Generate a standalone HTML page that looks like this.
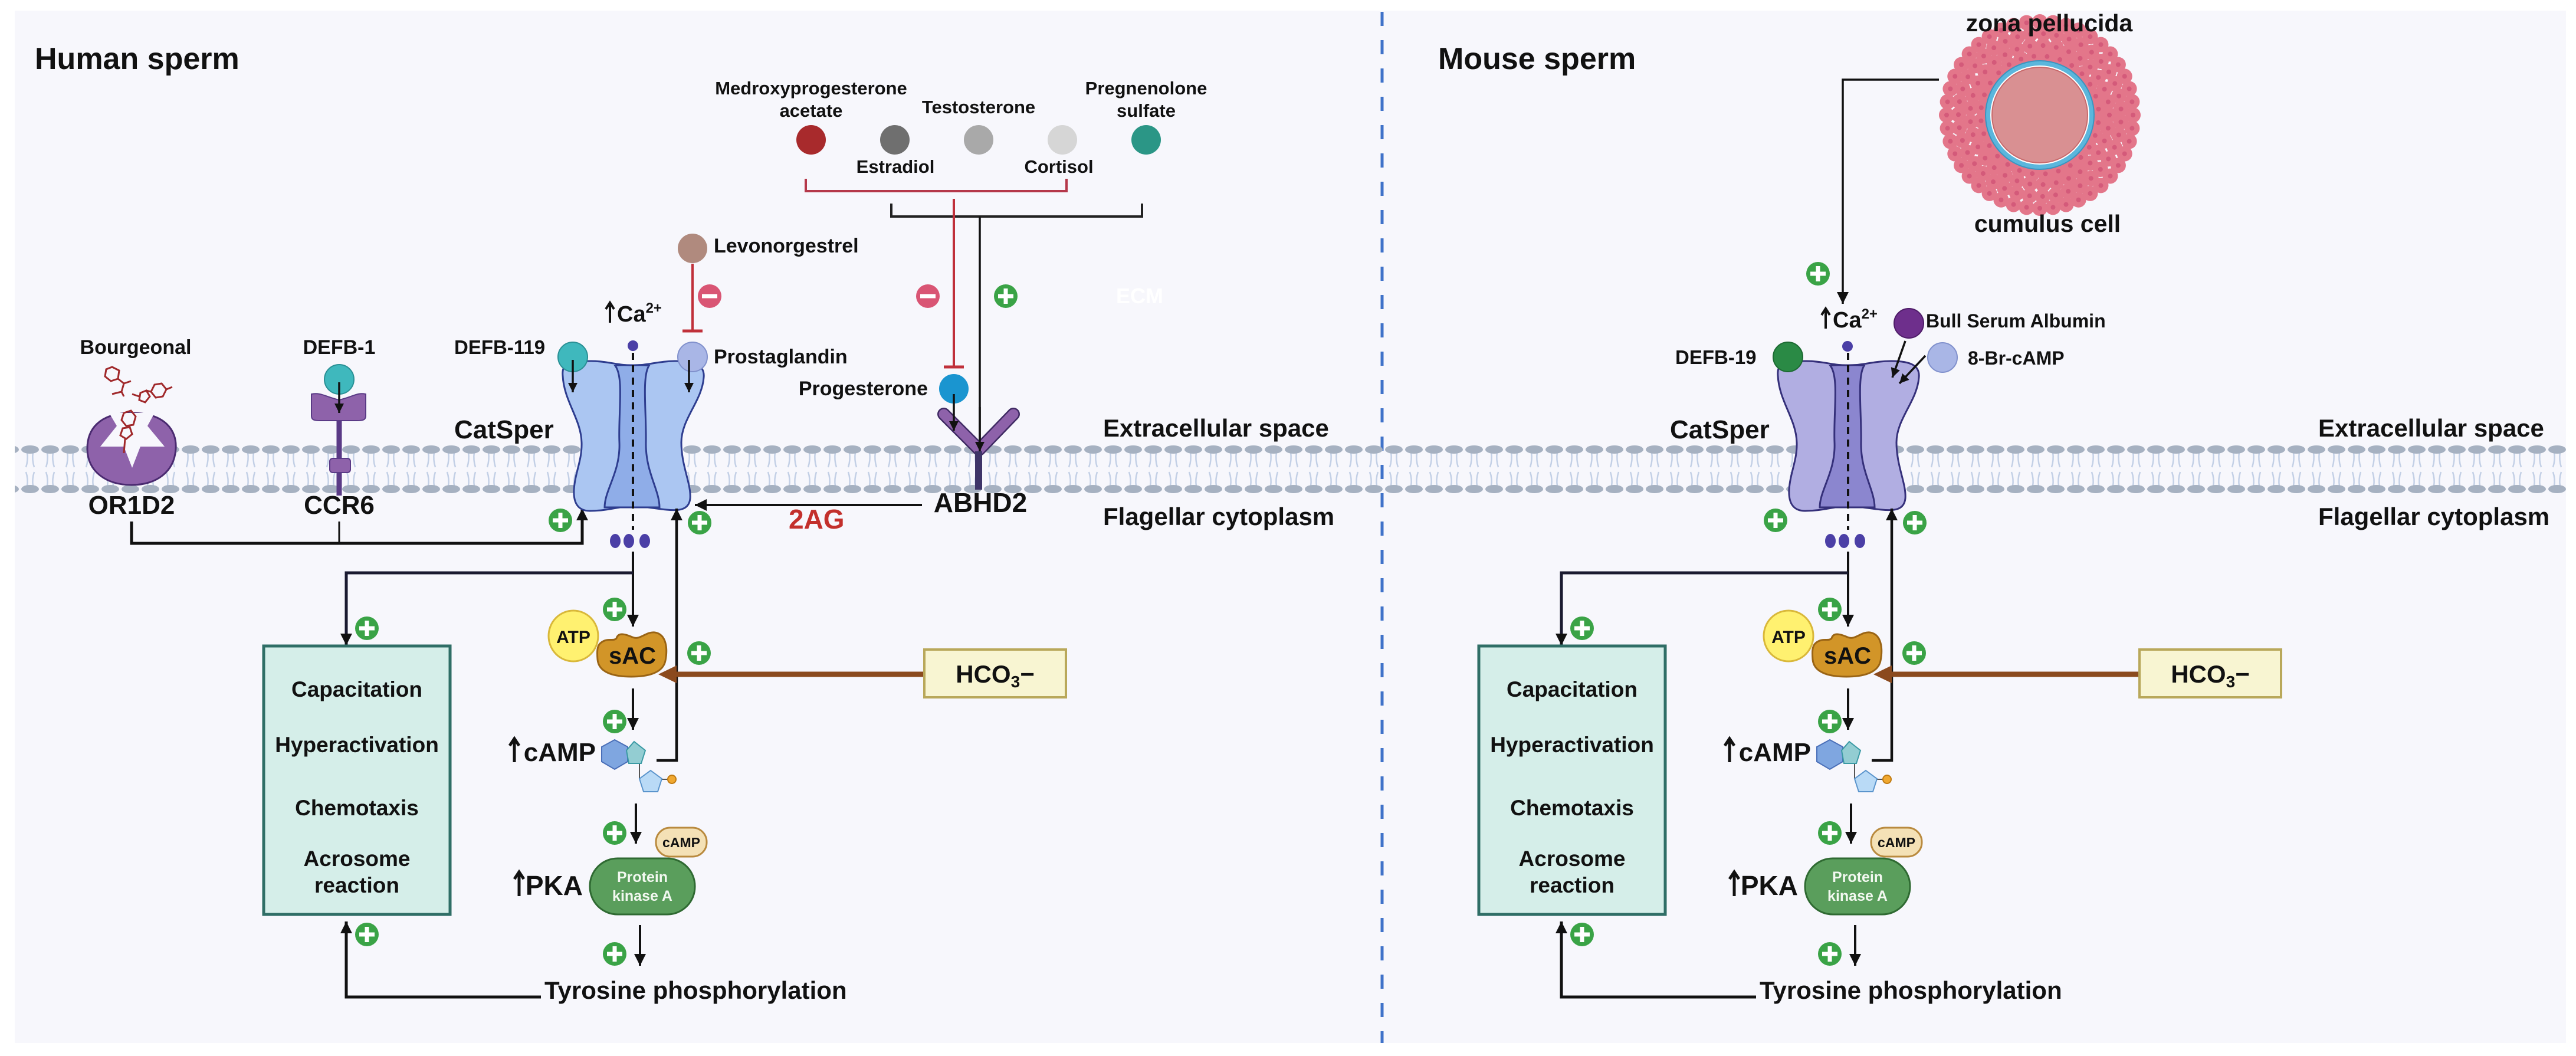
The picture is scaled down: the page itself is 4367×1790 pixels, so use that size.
<!DOCTYPE html>
<html><head><meta charset="utf-8"><style>
html,body{margin:0;padding:0;background:#fff;}
svg{display:block;}
text{font-family:"Liberation Sans",Arial,sans-serif;font-weight:bold;fill:#111;}
</style></head><body>
<svg width="4367" height="1790" viewBox="0 0 4367 1790" xmlns="http://www.w3.org/2000/svg">
<defs>
<marker id="a" viewBox="0 0 10 10" refX="10" refY="5" markerWidth="20" markerHeight="20" orient="auto" markerUnits="userSpaceOnUse"><path d="M0,0 L10,5 L0,10 z" fill="#111"/></marker>
<marker id="as" viewBox="0 0 10 10" refX="10" refY="5" markerWidth="16" markerHeight="16" orient="auto" markerUnits="userSpaceOnUse"><path d="M0,0 L10,5 L0,10 z" fill="#111"/></marker>
<pattern id="mem" patternUnits="userSpaceOnUse" x="0" y="752" width="34" height="88">
<path d="M12,14 Q14,28 10,40 M22,14 Q20,28 24,40 M10,48 Q14,60 12,72 M24,48 Q20,60 22,72" stroke="#c3d0e6" stroke-width="2.5" fill="none"/>
<ellipse cx="17" cy="10" rx="15" ry="7" fill="#a6b1c1"/>
<ellipse cx="17" cy="77" rx="15" ry="7" fill="#a6b1c1"/>
</pattern>
<g id="p"><circle r="20" fill="#3aa346"/><rect x="-13" y="-3.5" width="26" height="7" fill="#fff"/><rect x="-3.5" y="-13" width="7" height="26" fill="#fff"/></g>
<g id="m"><circle r="20" fill="#d95574"/><rect x="-13" y="-3.5" width="26" height="7" fill="#fff"/></g>
<g id="chan">
<path d="M954,637 C952,615 965,612 1002,612 C1030,612 1050,620 1073,619 C1096,620 1116,612 1146,612 C1180,612 1195,620 1193,640 C1190,680 1155,710 1155,750 C1155,790 1172,820 1170,845 C1168,865 1150,866 1130,864 C1110,862 1090,858 1073,858 C1050,858 1030,866 1000,866 C978,866 972,850 973,830 C975,800 987,780 986,750 C985,710 956,680 954,637 Z"/>
</g>
<g id="path">
<line x1="1073" y1="935" x2="1073" y2="1062" stroke="#111" stroke-width="4" marker-end="url(#a)"/>
<path d="M1073,971 L587,971 L587,1094" stroke="#1a1a30" stroke-width="5" fill="none" marker-end="url(#a)"/>
<use href="#p" x="622" y="1065"/>
<use href="#p" x="1042" y="1033"/>
<use href="#p" x="1185" y="1107"/>
<use href="#p" x="1042" y="1223"/>
<use href="#p" x="1042" y="1412"/>
<use href="#p" x="1042" y="1617"/>
<use href="#p" x="622" y="1584"/>
<path d="M1113,1289 L1147,1289 L1147,862" stroke="#111" stroke-width="4.5" fill="none" marker-end="url(#a)"/>
<line x1="1567" y1="1143" x2="1147" y2="1143" stroke="#8b4a1e" stroke-width="9"/>
<path d="M1116,1143 L1147,1128 L1147,1158 Z" fill="#8b4a1e"/>
<rect x="1567" y="1101" width="240" height="81" fill="#f8f5d2" stroke="#b9a85a" stroke-width="4"/>
<text x="1687" y="1157" font-size="42" text-anchor="middle">HCO<tspan font-size="28" dy="8">3</tspan><tspan dy="-8">−</tspan></text>
<rect x="447" y="1095" width="316" height="455" fill="#d5eee9" stroke="#2f6e66" stroke-width="5"/>
<text x="605" y="1181" font-size="37" text-anchor="middle">Capacitation</text>
<text x="605" y="1275" font-size="37" text-anchor="middle">Hyperactivation</text>
<text x="605" y="1382" font-size="37" text-anchor="middle">Chemotaxis</text>
<text x="605" y="1468" font-size="37" text-anchor="middle">Acrosome</text>
<text x="605" y="1513" font-size="37" text-anchor="middle">reaction</text>
<ellipse cx="972" cy="1078" rx="42" ry="43" fill="#fff170" stroke="#d9b83a" stroke-width="3"/>
<text x="972" y="1090" font-size="30" text-anchor="middle">ATP</text>
<path d="M1018,1090 C1030,1080 1040,1088 1045,1082 C1048,1072 1058,1074 1072,1080 C1085,1086 1095,1070 1110,1072 C1130,1075 1132,1100 1128,1120 C1124,1140 1100,1147 1070,1147 C1040,1147 1015,1140 1013,1118 C1012,1105 1012,1095 1018,1090 Z" fill="#d29528" stroke="#9a6414" stroke-width="3"/>
<text x="1072" y="1125" font-size="40" text-anchor="middle">sAC</text>
<line x1="1073" y1="1167" x2="1073" y2="1237" stroke="#111" stroke-width="4" marker-end="url(#a)"/>
<text x="1010" y="1290" font-size="44" text-anchor="end">cAMP</text>
<path d="M872,1292 L872,1254 M864,1264 L872,1252 L880,1264" stroke="#111" stroke-width="5" fill="none"/>
<line x1="1084" y1="1290" x2="1084" y2="1320" stroke="#555" stroke-width="2"/>
<line x1="1118" y1="1321" x2="1139" y2="1321" stroke="#555" stroke-width="2"/>
<polygon points="1042,1254 1064,1266 1064,1291 1042,1304 1020,1291 1020,1266" fill="#7fa6e0" stroke="#4a6fb8" stroke-width="2"/>
<polygon points="1075,1257 1094,1272 1087,1294 1066,1294 1062,1272" fill="#93cdd2" stroke="#3a9aa4" stroke-width="2"/>
<polygon points="1103,1306 1122,1320 1115,1342 1091,1342 1084,1320" fill="#b9daf6" stroke="#5a94cc" stroke-width="2"/>
<circle cx="1139" cy="1321" r="7" fill="#f0a830" stroke="#c07a10" stroke-width="2"/>
<line x1="1078" y1="1362" x2="1078" y2="1430" stroke="#111" stroke-width="4" marker-end="url(#a)"/>
<rect x="1112" y="1403" width="86" height="49" rx="24" fill="#f4e1b6" stroke="#b98a3e" stroke-width="3"/>
<text x="1155" y="1436" font-size="23" text-anchor="middle">cAMP</text>
<rect x="1000" y="1455" width="178" height="95" rx="47" fill="#5a9e5c" stroke="#2f6a32" stroke-width="3"/>
<text x="1089" y="1495" font-size="25" text-anchor="middle" style="fill:#f2f8f0">Protein</text>
<text x="1089" y="1527" font-size="25" text-anchor="middle" style="fill:#f2f8f0">kinase A</text>
<text x="988" y="1517" font-size="46" text-anchor="end">PKA</text>
<path d="M880,1519 L880,1480 M872,1490 L880,1478 L888,1490" stroke="#111" stroke-width="5" fill="none"/>
<line x1="1085" y1="1568" x2="1085" y2="1637" stroke="#111" stroke-width="4" marker-end="url(#a)"/>
<path d="M917,1690 L587,1690 L587,1562" stroke="#111" stroke-width="5" fill="none" marker-end="url(#a)"/>
<text x="923" y="1693" font-size="42">Tyrosine phosphorylation</text>
<line x1="1073" y1="598" x2="1073" y2="898" stroke="#111" stroke-width="4" stroke-dasharray="12 9"/>
<ellipse cx="1043" cy="917" rx="9" ry="12" fill="#4b3fa6"/>
<ellipse cx="1066" cy="917" rx="9" ry="12" fill="#4b3fa6"/>
<ellipse cx="1093" cy="917" rx="9" ry="12" fill="#4b3fa6"/>
<use href="#p" x="950" y="882"/>
<use href="#p" x="1186" y="886"/>
</g>
</defs>

<rect x="25" y="18" width="4325" height="1750" fill="#f7f7fc"/>
<line x1="2343" y1="20" x2="2343" y2="1768" stroke="#3f72c9" stroke-width="5" stroke-dasharray="24 24"/>
<rect x="25" y="752" width="4325" height="88" fill="url(#mem)"/>

<text x="59" y="117" font-size="52">Human sperm</text>
<text x="2438" y="117" font-size="52">Mouse sperm</text>

<text x="1870" y="740" font-size="42">Extracellular space</text>
<text x="1870" y="890" font-size="42">Flagellar cytoplasm</text>
<text x="3930" y="740" font-size="42">Extracellular space</text>
<text x="3930" y="890" font-size="42">Flagellar cytoplasm</text>

<!-- hormones -->
<text x="1375" y="160" font-size="31" text-anchor="middle">Medroxyprogesterone</text>
<text x="1375" y="198" font-size="31" text-anchor="middle">acetate</text>
<text x="1659" y="192" font-size="31" text-anchor="middle">Testosterone</text>
<text x="1943" y="160" font-size="31" text-anchor="middle">Pregnenolone</text>
<text x="1943" y="198" font-size="31" text-anchor="middle">sulfate</text>
<text x="1518" y="293" font-size="31" text-anchor="middle">Estradiol</text>
<text x="1795" y="293" font-size="31" text-anchor="middle">Cortisol</text>
<circle cx="1375" cy="237" r="25" fill="#a82a2c"/>
<circle cx="1517" cy="237" r="25" fill="#6f6f6f"/>
<circle cx="1659" cy="237" r="25" fill="#a9a9a9"/>
<circle cx="1801" cy="237" r="25" fill="#d6d6d6"/>
<circle cx="1943" cy="237" r="25" fill="#2b9686"/>
<path d="M1366,303 L1366,324 L1808,324 L1808,303" stroke="#b5384a" stroke-width="4" fill="none"/>
<path d="M1511,345 L1511,367 L1936,367 L1936,345" stroke="#222" stroke-width="4" fill="none"/>
<line x1="1617" y1="337" x2="1617" y2="622" stroke="#c0303a" stroke-width="4"/>
<line x1="1600" y1="622" x2="1634" y2="622" stroke="#c0303a" stroke-width="5"/>
<line x1="1661" y1="367" x2="1661" y2="765" stroke="#111" stroke-width="3.5" marker-end="url(#as)"/>
<use href="#m" x="1573" y="502"/>
<use href="#p" x="1705" y="502"/>
<text x="1892" y="514" font-size="36" style="fill:#ffffff">ECM</text>

<circle cx="1174" cy="421" r="25" fill="#b08a7e"/>
<text x="1210" y="428" font-size="34">Levonorgestrel</text>
<line x1="1174" y1="447" x2="1174" y2="561" stroke="#c0303a" stroke-width="4"/>
<line x1="1157" y1="561" x2="1191" y2="561" stroke="#c0303a" stroke-width="5"/>
<use href="#m" x="1203" y="502"/>

<text x="1573" y="670" font-size="34" text-anchor="end">Progesterone</text>
<path d="M1600,702 L1660,762 L1718,702" stroke="#3f2a63" stroke-width="22" fill="none" stroke-linecap="round" stroke-linejoin="round"/>
<path d="M1600,702 L1660,762 L1718,702" stroke="#8e62aa" stroke-width="17" fill="none" stroke-linecap="round" stroke-linejoin="round"/>
<line x1="1659" y1="765" x2="1659" y2="830" stroke="#3e3468" stroke-width="12"/>
<circle cx="1617" cy="659" r="25" fill="#1a95d0"/>
<line x1="1617" y1="668" x2="1617" y2="730" stroke="#111" stroke-width="3.5" marker-end="url(#as)"/>
<line x1="1661" y1="690" x2="1661" y2="765" stroke="#111" stroke-width="3.5" marker-end="url(#as)"/>
<text x="1662" y="868" font-size="46" text-anchor="middle">ABHD2</text>
<line x1="1563" y1="856" x2="1178" y2="856" stroke="#111" stroke-width="4" marker-end="url(#a)"/>
<text x="1337" y="896" font-size="46" style="fill:#c3302c">2AG</text>

<!-- OR1D2 -->
<text x="230" y="600" font-size="34" text-anchor="middle">Bourgeonal</text>
<path d="M223,700 C280,700 300,730 298,760 C296,800 265,822 223,822 C181,822 148,800 148,760 C148,730 166,700 223,700 Z" fill="#8e62aa" stroke="#4a2a70" stroke-width="3"/>
<polygon points="185,700 198,722 170,757 210,757 224,793 238,757 279,757 250,722 262,700" fill="#f7f7fc"/>
<g stroke="#a0282a" stroke-width="3" fill="none">
<polygon points="190,622 202,628 200,642 188,646 178,638 180,626"/>
<path d="M200,642 L210,650 L222,646 M210,650 L206,664 L190,668 M206,664 L210,672"/>
<polygon points="238,666 248,662 254,672 246,682 236,678"/>
<polygon points="262,652 274,650 282,660 276,672 264,674 256,664"/>
<path d="M248,662 L256,664 M282,660 L292,656 M224,668 L236,672"/>
<polygon points="210,700 222,696 230,706 226,720 214,722 206,712"/>
<polygon points="208,726 220,724 224,736 214,744 204,738"/>
<path d="M212,744 L210,768"/>
</g>
<text x="223" y="871" font-size="44" text-anchor="middle">OR1D2</text>

<text x="575" y="600" font-size="34" text-anchor="middle">DEFB-1</text>
<line x1="575" y1="700" x2="575" y2="840" stroke="#5a3a86" stroke-width="9"/>
<rect x="559" y="777" width="35" height="24" rx="5" fill="#8e62aa" stroke="#5a3a86" stroke-width="2"/>
<path d="M528,668 C545,665 550,672 575,678 C600,672 605,665 620,668 L620,705 C620,712 615,713 605,713 L543,713 C533,713 528,712 528,705 Z" fill="#8e62aa" stroke="#5a3a86" stroke-width="2"/>
<circle cx="575" cy="643" r="25" fill="#3fb8bd" stroke="#2a9095" stroke-width="2"/>
<line x1="575" y1="648" x2="575" y2="700" stroke="#111" stroke-width="3.5" marker-end="url(#as)"/>
<text x="575" y="871" font-size="44" text-anchor="middle">CCR6</text>
<path d="M223,884 L223,921 L987,921 L987,862" stroke="#111" stroke-width="5" fill="none" marker-end="url(#a)"/>
<line x1="575" y1="884" x2="575" y2="921" stroke="#111" stroke-width="3"/>

<g fill="#abc6f2" stroke="#2e3d8f" stroke-width="3"><use href="#chan"/></g>
<path d="M1043,620 C1058,640 1048,700 1050,750 C1052,800 1025,830 1025,860 L1118,860 C1118,830 1094,800 1095,750 C1096,700 1088,640 1100,620 C1090,618 1080,619 1073,619 C1060,619 1050,618 1043,620 Z" fill="#8fade8" stroke="#2e3d8f" stroke-width="3"/>
<text x="770" y="743" font-size="44">CatSper</text>
<path d="M1034,547 L1034,515 M1027,524 L1034,513 L1041,524" stroke="#111" stroke-width="4" fill="none"/>
<text x="1046" y="545" font-size="38">Ca<tspan font-size="24" dy="-15">2+</tspan></text>
<circle cx="1073" cy="586" r="9" fill="#4b3fa6"/>
<text x="770" y="600" font-size="33">DEFB-119</text>
<circle cx="971" cy="605" r="25" fill="#3fb8bd" stroke="#2a9095" stroke-width="2"/>
<line x1="971" y1="610" x2="971" y2="665" stroke="#111" stroke-width="3.5" marker-end="url(#as)"/>
<circle cx="1174" cy="605" r="25" fill="#a9b6e6" stroke="#8090cc" stroke-width="2"/>
<line x1="1168" y1="610" x2="1168" y2="665" stroke="#111" stroke-width="3.5" marker-end="url(#as)"/>
<text x="1210" y="616" font-size="34">Prostaglandin</text>
<use href="#path"/>

<!-- RIGHT -->
<g fill="none" stroke-linecap="round">
<circle cx="3458" cy="195" r="158" pathLength="100" stroke="#e3768a" stroke-width="26" stroke-dasharray="0 2.2727"/>
<circle cx="3458" cy="195" r="138" pathLength="100" stroke="#e3768a" stroke-width="26" stroke-dasharray="0 2.5641" stroke-dashoffset="1.2"/>
<circle cx="3458" cy="195" r="118" pathLength="100" stroke="#e3768a" stroke-width="26" stroke-dasharray="0 3.0303"/>
<circle cx="3458" cy="195" r="100" pathLength="100" stroke="#e3768a" stroke-width="26" stroke-dasharray="0 3.5714" stroke-dashoffset="1.5"/>
<circle cx="3458" cy="195" r="158" pathLength="100" stroke="#d45a7a" stroke-width="8" stroke-dasharray="0 2.2727"/>
<circle cx="3458" cy="195" r="138" pathLength="100" stroke="#d45a7a" stroke-width="8" stroke-dasharray="0 2.5641" stroke-dashoffset="1.2"/>
<circle cx="3458" cy="195" r="118" pathLength="100" stroke="#d45a7a" stroke-width="8" stroke-dasharray="0 3.0303"/>
<circle cx="3458" cy="195" r="100" pathLength="100" stroke="#d45a7a" stroke-width="8" stroke-dasharray="0 3.5714" stroke-dashoffset="1.5"/>
</g>
<circle cx="3458" cy="195" r="92" fill="#5bb6dc" stroke="#3a95c0" stroke-width="2"/>
<circle cx="3458" cy="195" r="84" fill="#fff"/>
<circle cx="3458" cy="195" r="81" fill="#d99092" stroke="#c86a6c" stroke-width="2"/>
<text x="3474" y="53" font-size="41" text-anchor="middle">zona pellucida</text>
<text x="3471" y="393" font-size="41" text-anchor="middle">cumulus cell</text>
<path d="M3287,135 L3124,135 L3124,515" stroke="#111" stroke-width="3.5" fill="none" marker-end="url(#a)"/>
<use href="#p" x="3082" y="464"/>

<g fill="#b1aee2" stroke="#35307a" stroke-width="3"><use href="#chan" x="2060"/></g>
<path transform="translate(2060,0)" d="M1043,620 C1058,640 1048,700 1050,750 C1052,800 1025,830 1025,860 L1118,860 C1118,830 1094,800 1095,750 C1096,700 1088,640 1100,620 C1090,618 1080,619 1073,619 C1060,619 1050,618 1043,620 Z" fill="#8b86cf" stroke="#35307a" stroke-width="3"/>
<text x="2831" y="743" font-size="44">CatSper</text>
<path d="M3095,557 L3095,525 M3088,534 L3095,523 L3102,534" stroke="#111" stroke-width="4" fill="none"/>
<text x="3107" y="555" font-size="38">Ca<tspan font-size="24" dy="-15">2+</tspan></text>
<circle cx="3132" cy="587" r="9" fill="#4b3fa6"/>
<text x="2840" y="617" font-size="33">DEFB-19</text>
<circle cx="3031" cy="605" r="25" fill="#2a8a45" stroke="#1c6a32" stroke-width="2"/>
<circle cx="3236" cy="548" r="25" fill="#6e2f8c" stroke="#4e1c68" stroke-width="2"/>
<text x="3265" y="555" font-size="32">Bull Serum Albumin</text>
<circle cx="3293" cy="606" r="25" fill="#a9b6e6" stroke="#8090cc" stroke-width="2"/>
<text x="3336" y="618" font-size="32">8-Br-cAMP</text>
<line x1="3230" y1="578" x2="3208" y2="640" stroke="#111" stroke-width="3.5" marker-end="url(#as)"/>
<line x1="3264" y1="603" x2="3220" y2="650" stroke="#111" stroke-width="3.5" marker-end="url(#as)"/>
<use href="#path" x="2060"/>
</svg>
</body></html>
